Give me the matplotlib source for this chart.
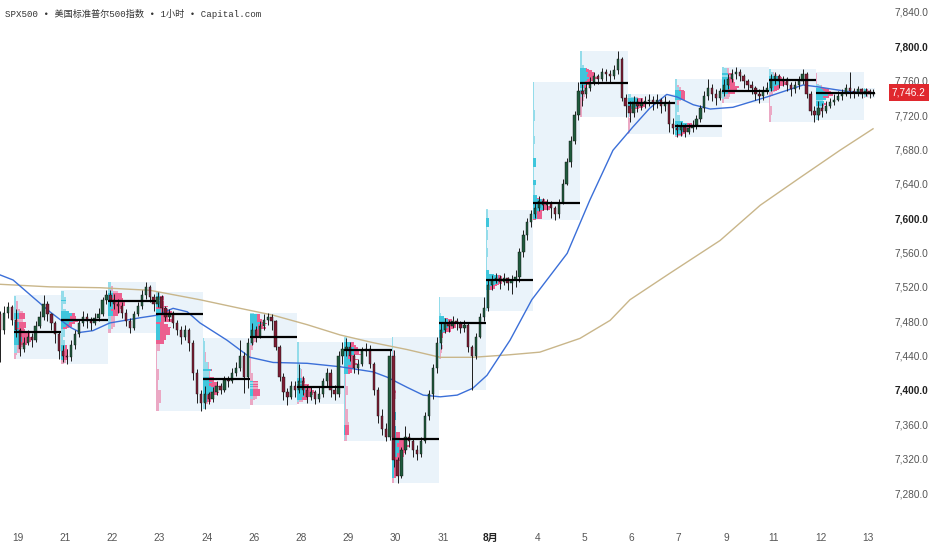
import numpy as np
import matplotlib.pyplot as plt
import matplotlib.transforms as mtransforms

plt.rcParams['font.family'] = ['Liberation Sans', 'Noto Sans CJK SC']

title = "SPX500 • 美国标准普尔500指数 • 1小时 • Capital.com"
day_labels = ["19", "21", "22", "23", "24", "26", "28", "29", "30", "31",
              "8月", "4", "5", "6", "7", "9", "11", "12", "13"]

# hourly bars grouped 12 per session, open = previous close
first_open = 7488
pre_close = [7470, 7490, 7496, 7482]
pre_high = [7492, 7498, 7502, 7499]
pre_low = [7432, 7465, 7484, 7476]

close_by_session = [
    [7470, 7448, 7455, 7462, 7458, 7475, 7485, 7500, 7488, 7478, 7465, 7445],
    [7440, 7438, 7452, 7465, 7478, 7485, 7480, 7478, 7484, 7488, 7505, 7510],
    [7505, 7500, 7498, 7490, 7480, 7472, 7488, 7498, 7510, 7520, 7508, 7500],
    [7508, 7495, 7485, 7490, 7478, 7470, 7462, 7470, 7455, 7420, 7395, 7385],
    [7395, 7390, 7398, 7405, 7400, 7412, 7410, 7420, 7425, 7440, 7415, 7455],
    [7470, 7462, 7475, 7482, 7485, 7480, 7450, 7415, 7398, 7392, 7405, 7400],
    [7410, 7400, 7392, 7398, 7390, 7395, 7410, 7420, 7400, 7395, 7440, 7448],
    [7450, 7440, 7425, 7430, 7445, 7448, 7430, 7400, 7370, 7355, 7345, 7440],
    [7318, 7300, 7330, 7345, 7340, 7330, 7325, 7340, 7370, 7395, 7425, 7455],
    [7470, 7478, 7475, 7480, 7478, 7472, 7476, 7450, 7440, 7462, 7485, 7495],
    [7522, 7528, 7530, 7526, 7530, 7524, 7528, 7532, 7560, 7580, 7595, 7605],
    [7612, 7620, 7615, 7618, 7612, 7605, 7618, 7640, 7665, 7690, 7720, 7748],
    [7745, 7752, 7758, 7765, 7762, 7770, 7768, 7765, 7772, 7785, 7740, 7730],
    [7722, 7735, 7730, 7734, 7736, 7738, 7734, 7738, 7730, 7735, 7710, 7705],
    [7702, 7706, 7700, 7705, 7708, 7715, 7728, 7742, 7752, 7745, 7740, 7748],
    [7755, 7762, 7768, 7770, 7766, 7760, 7755, 7752, 7745, 7742, 7748, 7752],
    [7762, 7765, 7760, 7762, 7755, 7750, 7755, 7760, 7768, 7745, 7725, 7720],
    [7728, 7725, 7730, 7735, 7738, 7742, 7745, 7752, 7748, 7746, 7750, 7745],
    [7748, 7744, 7746.2],
]
high_by_session = [
    [7494, 7472, 7462, 7470, 7466, 7480, 7492, 7510, 7503, 7490, 7480, 7468],
    [7452, 7448, 7458, 7470, 7482, 7492, 7490, 7485, 7490, 7495, 7508, 7516],
    [7516, 7512, 7506, 7502, 7494, 7484, 7492, 7502, 7516, 7526, 7522, 7512],
    [7514, 7510, 7498, 7494, 7492, 7482, 7474, 7476, 7472, 7458, 7424, 7400],
    [7405, 7398, 7404, 7410, 7408, 7416, 7416, 7425, 7432, 7458, 7444, 7460],
    [7478, 7474, 7480, 7488, 7490, 7488, 7482, 7452, 7420, 7402, 7410, 7410],
    [7430, 7416, 7406, 7404, 7400, 7405, 7414, 7426, 7424, 7406, 7445, 7456],
    [7461, 7456, 7442, 7436, 7450, 7455, 7452, 7432, 7404, 7378, 7362, 7446],
    [7446, 7322, 7334, 7358, 7350, 7344, 7336, 7345, 7374, 7400, 7430, 7462],
    [7478, 7484, 7482, 7486, 7484, 7480, 7482, 7478, 7452, 7466, 7490, 7508],
    [7528, 7534, 7536, 7534, 7536, 7532, 7534, 7540, 7565, 7586, 7600, 7610],
    [7618, 7626, 7624, 7622, 7620, 7614, 7622, 7645, 7670, 7696, 7725, 7758],
    [7756, 7758, 7764, 7770, 7768, 7775, 7774, 7772, 7778, 7795, 7788, 7745],
    [7736, 7742, 7740, 7740, 7742, 7744, 7742, 7744, 7740, 7742, 7738, 7716],
    [7710, 7712, 7710, 7710, 7714, 7720, 7732, 7748, 7762, 7756, 7750, 7752],
    [7762, 7768, 7774, 7776, 7774, 7768, 7762, 7760, 7754, 7750, 7754, 7758],
    [7768, 7770, 7768, 7766, 7764, 7758, 7760, 7766, 7774, 7770, 7748, 7730],
    [7736, 7734, 7736, 7740, 7744, 7748, 7750, 7756, 7770, 7752, 7754, 7752],
    [7752, 7750, 7750],
]
low_by_session = [
    [7462, 7440, 7444, 7452, 7450, 7456, 7472, 7482, 7480, 7470, 7455, 7436],
    [7432, 7430, 7434, 7448, 7462, 7474, 7472, 7470, 7476, 7480, 7486, 7500],
    [7498, 7494, 7490, 7484, 7474, 7466, 7470, 7486, 7494, 7506, 7502, 7492],
    [7496, 7490, 7480, 7480, 7472, 7464, 7454, 7458, 7445, 7412, 7385, 7376],
    [7378, 7384, 7386, 7394, 7395, 7398, 7404, 7408, 7416, 7422, 7396, 7402],
    [7452, 7456, 7460, 7470, 7476, 7470, 7446, 7410, 7388, 7382, 7390, 7392],
    [7396, 7394, 7385, 7388, 7384, 7386, 7392, 7405, 7392, 7388, 7392, 7430],
    [7440, 7434, 7420, 7418, 7428, 7440, 7425, 7394, 7362, 7348, 7340, 7342],
    [7310, 7292, 7298, 7326, 7334, 7322, 7318, 7322, 7338, 7365, 7390, 7420],
    [7448, 7466, 7468, 7472, 7470, 7466, 7468, 7444, 7400, 7436, 7460, 7480],
    [7492, 7516, 7524, 7518, 7522, 7516, 7512, 7520, 7526, 7555, 7575, 7590],
    [7600, 7608, 7610, 7610, 7600, 7598, 7600, 7616, 7638, 7660, 7686, 7714],
    [7730, 7740, 7748, 7755, 7756, 7760, 7760, 7758, 7762, 7768, 7736, 7718],
    [7712, 7718, 7724, 7726, 7728, 7730, 7726, 7728, 7722, 7725, 7700, 7698],
    [7695, 7696, 7694, 7698, 7700, 7704, 7712, 7724, 7738, 7736, 7732, 7738],
    [7742, 7750, 7758, 7762, 7760, 7752, 7748, 7744, 7738, 7734, 7738, 7744],
    [7748, 7756, 7752, 7754, 7748, 7742, 7746, 7750, 7756, 7740, 7720, 7712],
    [7714, 7718, 7722, 7728, 7732, 7736, 7738, 7742, 7740, 7740, 7742, 7740],
    [7742, 7740, 7742],
]

# point of control of each session profile
poc_price = [7467, 7482, 7504, 7488, 7413, 7462, 7403, 7446, 7343, 7478,
             7528, 7618, 7757, 7734, 7707, 7748, 7761, 7746, 7746]

# moving averages, read at session positions
ma_fast_x = [-0.30, -0.02, 0.40, 0.76, 1.19, 1.40, 1.67, 2.03, 2.67, 3.03, 3.37, 3.67,
             3.94, 4.51, 5.00, 5.49, 6.21, 6.91, 7.61, 7.90, 8.33, 8.67, 9.03, 9.39,
             9.72, 10.02, 10.51, 10.97, 11.72, 12.20, 12.69, 13.11, 13.47, 13.83,
             14.05, 14.39, 14.75, 15.23, 15.95, 16.50, 16.72, 17.01, 17.35, 17.71, 18.20]
ma_fast = [7534, 7528, 7508, 7491, 7473, 7467, 7469, 7478, 7484, 7487, 7495, 7491,
           7478, 7458, 7438, 7432, 7431, 7427, 7421, 7415, 7403, 7394, 7392, 7394,
           7402, 7417, 7458, 7505, 7559, 7621, 7679, 7706, 7728, 7744,
           7741, 7732, 7727, 7729, 7741, 7751, 7755, 7753, 7750, 7747, 7746]
ma_slow_x = [-0.30, 0.76, 1.82, 2.88, 3.94, 4.79, 5.49, 6.21, 6.91, 7.61, 8.33, 9.03,
             9.72, 10.51, 11.14, 11.99, 12.63, 13.05, 13.90, 14.96, 15.81, 16.65,
             17.50, 18.20]
ma_slow = [7523, 7520, 7519, 7516, 7505, 7495, 7487, 7476, 7464, 7455, 7447, 7438,
           7438, 7441, 7444, 7460, 7481, 7505, 7536, 7574, 7615, 7647, 7679, 7704]

last_price = 7746.2

bars_per_session = 12
up_col = '#1f5a3c'
dn_col = '#7e1d34'
cyan = '#3fc6dc'
pink = '#ec5f8f'

fig = plt.figure(figsize=(9.32, 5.5), dpi=100)
ax = fig.add_axes([0, 25 / 550, 878 / 932, 525 / 550])
ax.set_xlim(-14 / 47.2, 864 / 47.2)
ax.set_ylim(7242.8, 7853.9)

# build bar table
xs, opens, closes, highs, lows, sess = [], [], [], [], [], []
prev = first_open
for j, (c, h, l) in enumerate(zip(pre_close, pre_high, pre_low)):
    xs.append(-1 + (8 + j + 0.5) / bars_per_session)
    opens.append(prev); closes.append(c); highs.append(h); lows.append(l); sess.append(-1)
    prev = c
for k in range(len(close_by_session)):
    for j, (c, h, l) in enumerate(zip(close_by_session[k], high_by_session[k], low_by_session[k])):
        xs.append(k + (j + 0.5) / bars_per_session)
        opens.append(prev); closes.append(c); highs.append(h); lows.append(l); sess.append(k)
        prev = c
xs = np.array(xs); opens = np.array(opens, float); closes = np.array(closes, float)
highs = np.maximum(np.array(highs, float), np.maximum(opens, closes))
lows = np.minimum(np.array(lows, float), np.minimum(opens, closes))
sess = np.array(sess)
up = closes >= opens

# session boxes and volume profiles
step = 1.5
for k in range(len(close_by_session)):
    m = sess == k
    lo, hi = lows[m].min(), highs[m].max()
    span = min(1.0, m.sum() / bars_per_session)
    ax.add_patch(plt.Rectangle((k, lo), span, hi - lo, facecolor='#eaf3fa',
                               edgecolor='none', zorder=1))
    edges = np.arange(np.floor(lo), hi + step, step)
    centers = (edges[:-1] + edges[1:]) / 2
    vol_up = np.zeros(len(centers)); vol_dn = np.zeros(len(centers))
    for h, l, u in zip(highs[m], lows[m], up[m]):
        inside = (centers >= l) & (centers <= h)
        if inside.sum() == 0:
            continue
        if u:
            vol_up[inside] += 1 / inside.sum()
        else:
            vol_dn[inside] += 1 / inside.sum()
    tot = vol_up + vol_dn
    order = np.argsort(tot)[::-1]
    va = np.zeros(len(tot), bool)
    va[order[np.cumsum(tot[order]) <= 0.7 * tot.sum()]] = True
    scale = 0.36 * span / tot.max()
    for inva, alpha in [(True, 1.0), (False, 0.5)]:
        sel = va == inva
        ax.barh(centers[sel], vol_up[sel] * scale, height=step, left=k,
                color=cyan, alpha=alpha, linewidth=0, zorder=2)
        ax.barh(centers[sel], vol_dn[sel] * scale, height=step,
                left=k + vol_up[sel] * scale, color=pink, alpha=alpha,
                linewidth=0, zorder=2)
    ax.hlines(poc_price[k], k, k + max(span, 0.25), color='black', lw=1.6, zorder=6)

# moving averages
ax.plot(ma_slow_x, ma_slow, color='#c9b68a', lw=1.0, zorder=3)
ax.plot(ma_fast_x, ma_fast, color='#3b6fd8', lw=1.0, zorder=3)

# candles
w = 0.6 / bars_per_session
ax.vlines(xs, lows, highs, color='#1c1c1c', lw=0.7, zorder=4)
body_lo = np.minimum(opens, closes)
body_h = np.maximum(np.abs(closes - opens), 0.6)
ax.bar(xs[up], body_h[up], bottom=body_lo[up], width=w, color=up_col,
       edgecolor='#111111', linewidth=0.3, zorder=5)
ax.bar(xs[~up], body_h[~up], bottom=body_lo[~up], width=w, color=dn_col,
       edgecolor='#111111', linewidth=0.3, zorder=5)

# axes styling
for s in ax.spines.values():
    s.set_visible(False)
ax.yaxis.tick_right()
yt = list(range(7280, 7841, 40))
ax.set_yticks(yt)
ax.set_yticklabels([f"{v:,.1f}" for v in yt])
ax.tick_params(axis='y', length=0, pad=12, labelsize=7.3, labelcolor='#555555')
for t, v in zip(ax.get_yticklabels(), yt):
    if v in (7400, 7600, 7800):
        t.set_fontweight('bold')
        t.set_color('#222222')
ax.set_xticks([k + 4 / 47.2 for k in range(len(day_labels))])
ax.set_xticklabels(day_labels)
ax.tick_params(axis='x', length=0, pad=6, labelsize=7.3, labelcolor='#555555')
for t, lab in zip(ax.get_xticklabels(), day_labels):
    if lab == "8月":
        t.set_fontweight('bold')
        t.set_color('#222222')

trans = mtransforms.blended_transform_factory(ax.transAxes, ax.transData)
ax.text(1 + 14 / 878, last_price, f"{last_price:,.1f}", transform=trans,
        ha='left', va='center', fontsize=7.3, color='white', zorder=10,
        bbox=dict(boxstyle='square,pad=0.3', facecolor='#e0282e', edgecolor='none'),
        clip_on=False)

fig.text(5 / 932, 1 - 14 / 550, title, ha='left', va='center', fontsize=6.6,
         color='#333333', family=['Liberation Mono', 'Noto Sans CJK SC'])

fig.savefig('out.png', dpi=100, facecolor='white')
